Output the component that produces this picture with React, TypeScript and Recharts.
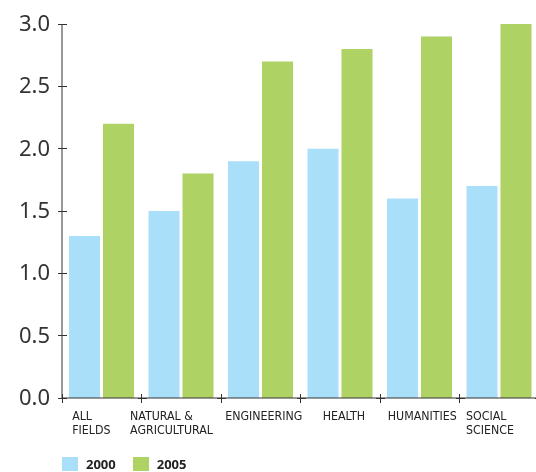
import React from 'react'
import { Bar, BarChart, Legend, XAxis, YAxis } from 'recharts'

const fields = ['ALL\nFIELDS', 'NATURAL &\nAGRICULTURAL', 'ENGINEERING', 'HEALTH', 'HUMANITIES', 'SOCIAL\nSCIENCE']
const y2000 = [1.3, 1.5, 1.9, 2.0, 1.6, 1.7]
const y2005 = [2.2, 1.8, 2.7, 2.8, 2.9, 3.0]
const yTicks = [0, 0.5, 1.0, 1.5, 2.0, 2.5, 3.0]

const data = fields.map((f, i) => ({ field: f, '2000': y2000[i], '2005': y2005[i] }))

const W = 545
const H = 472
const LEFT = 62
const RIGHT = 6
const BAND = (W - LEFT - RIGHT) / fields.length
const INK = '#333'

const Cross = ({ cx, cy }: { cx: number; cy: number }) => (
  <g stroke={INK} strokeWidth={1} shapeRendering="crispEdges">
    <line x1={cx - 4} x2={cx + 5} y1={cy} y2={cy} />
    <line x1={cx} x2={cx} y1={cy - 4} y2={cy + 5} />
  </g>
)

const YTick = (props: any) => {
  const { x, y, payload } = props
  const ax = x + 12
  return (
    <g>
      <line x1={ax - 4} x2={ax + 5} y1={y} y2={y} stroke={INK} strokeWidth={1} shapeRendering="crispEdges" />
      <text x={x} y={y} dy={7} textAnchor="end" fontSize={22} fill={INK} fontFamily="'Noto Sans', sans-serif">
        {Number(payload.value).toFixed(1)}
      </text>
    </g>
  )
}

// category labels: left-aligned lines in a block near the band centre,
// cross marks on the band boundaries
const XTick = (props: any) => {
  const { x, y, payload, index } = props
  const lines = String(payload.value).split('\n')
  const longest = Math.max(...lines.map((l) => l.length))
  const left = x - (longest * 7.2) / 2 + (lines.length > 1 ? -8 : 4)
  return (
    <g>
      {index === 0 && <Cross cx={x - BAND / 2} cy={y} />}
      <Cross cx={x + BAND / 2} cy={y} />
      <text x={left} y={y + 22} fontSize={12.3} fill="#222" fontFamily="'DejaVu Sans Condensed', 'DejaVu Sans', sans-serif">
        {lines.map((l, i) => (
          <tspan key={i} x={left} dy={i === 0 ? 0 : 14}>
            {l}
          </tspan>
        ))}
      </text>
    </g>
  )
}

const LegendBox = ({ payload }: any) => (
  <div style={{ display: 'flex', gap: 17, paddingLeft: 62, height: 14, lineHeight: '14px' }}>
    {payload.map((p: any) => (
      <div key={p.value} style={{ display: 'flex', alignItems: 'center', gap: 8 }}>
        <span style={{ width: 16, height: 14, background: p.color, display: 'inline-block' }} />
        <span style={{ fontFamily: "'Noto Sans', sans-serif", fontWeight: 700, fontSize: 13, color: '#222' }}>{p.value}</span>
      </div>
    ))}
  </div>
)

export default function App() {
  // the plot runs a few px past the right edge, so clip it to the page
  return (
    <div style={{ position: 'fixed', left: 0, top: 0, width: 536, height: H, overflow: 'hidden' }}>
      <BarChart width={W} height={H} data={data} margin={{ top: 24, right: RIGHT, left: 0, bottom: 1 }} barGap={3} barSize={31}>
        <XAxis
          dataKey="field"
          interval={0}
          height={59}
          tickLine={false}
          tickSize={0}
          tickMargin={0}
          axisLine={{ stroke: INK }}
          tick={<XTick />}
        />
        <YAxis
          width={LEFT}
          domain={[0, 3]}
          ticks={yTicks}
          tickLine={false}
          tickSize={0}
          tickMargin={12}
          axisLine={{ stroke: INK }}
          tick={<YTick />}
        />
        <Legend verticalAlign="bottom" align="left" content={<LegendBox />} />
        <Bar dataKey="2000" fill="#a9dff8" isAnimationActive={false} />
        <Bar dataKey="2005" fill="#aed264" isAnimationActive={false} />
      </BarChart>
    </div>
  )
}
